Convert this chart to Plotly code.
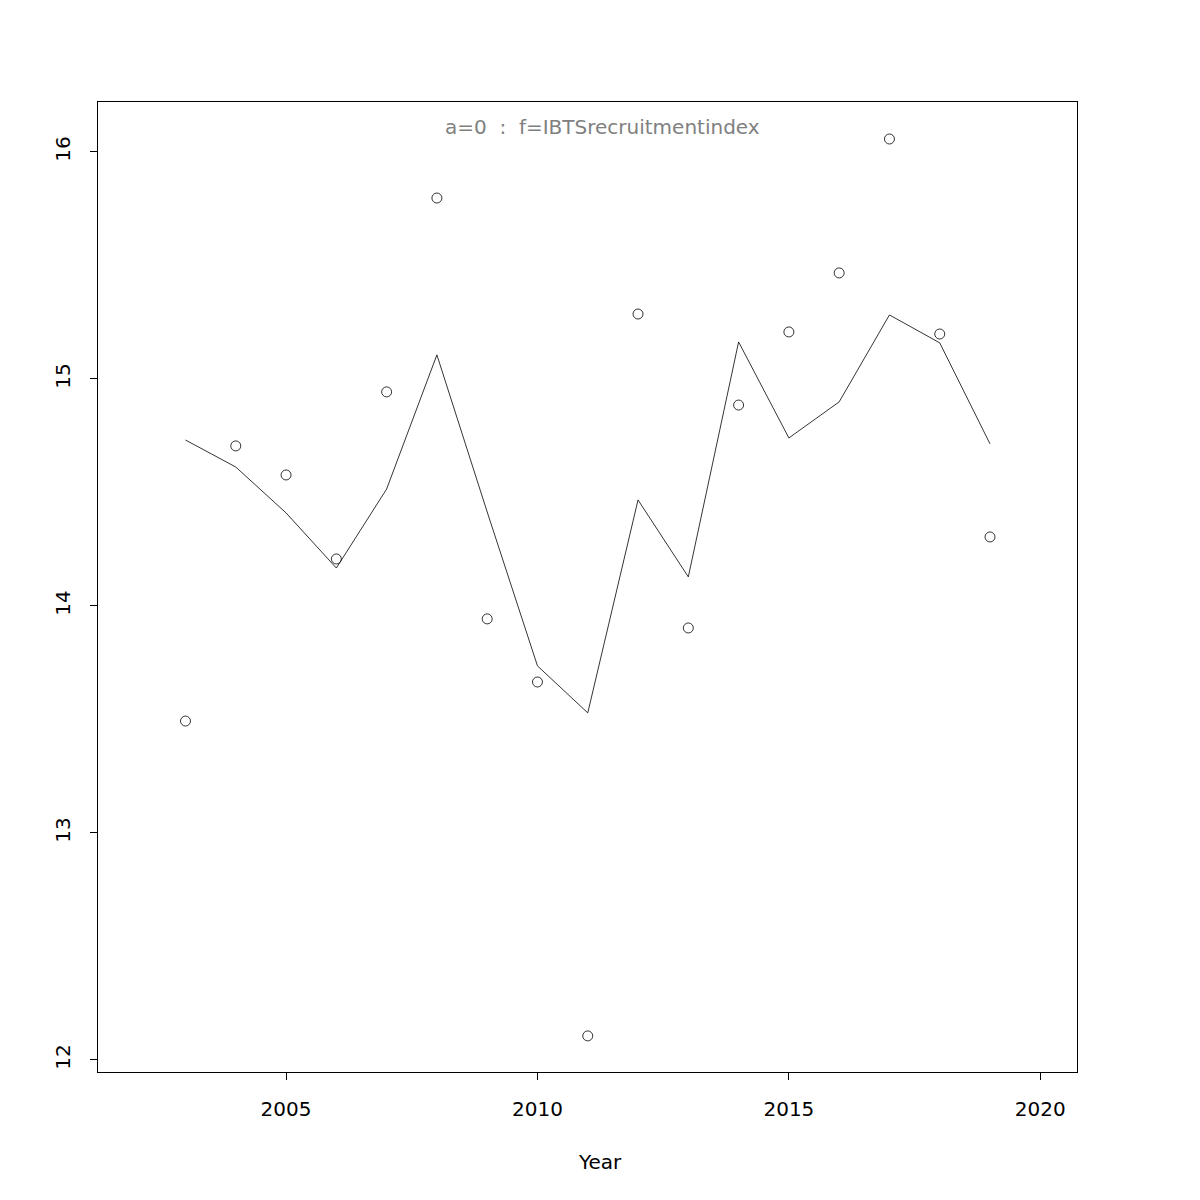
import plotly.graph_objects as go

years = list(range(2003, 2020))
observed = [13.493, 14.705, 14.577, 14.207, 14.943, 15.797, 13.943, 13.665, 12.106,
            15.286, 13.903, 14.885, 15.207, 15.467, 16.057, 15.198, 14.304]
fitted = [14.731, 14.612, 14.410, 14.167, 14.515, 15.106, 14.414, 13.736, 13.529,
          14.467, 14.128, 15.163, 14.740, 14.899, 15.282, 15.159, 14.714]
x_ticks = [2005, 2010, 2015, 2020]
y_ticks = [12, 13, 14, 15, 16]
title_text = "a=0  :  f=IBTSrecruitmentindex"

FONT = "DejaVu Sans"
FS = 20
fig = go.Figure()
fig.add_trace(go.Scatter(x=years, y=fitted, mode="lines",
                         line=dict(color="black", width=0.8), showlegend=False))
fig.add_trace(go.Scatter(x=years, y=observed, mode="markers",
                         marker=dict(symbol="circle-open", size=10, color="black",
                                     line=dict(width=0.8)), showlegend=False))

L, R, T, B = 90, 131, 94, 136
fig.update_layout(
    width=1200, height=1200,
    margin=dict(l=L, r=R, t=T, b=B),
    paper_bgcolor="white", plot_bgcolor="white",
    font=dict(family=FONT, size=FS, color="black"),
    xaxis=dict(range=[2001.26, 2020.73], tickvals=x_ticks, ticks="outside", ticklen=7,
               tickcolor="black", tickwidth=1, showline=True, mirror=True,
               linecolor="black", linewidth=1, showgrid=False, zeroline=False,
               ticklabelstandoff=12,
               tickfont=dict(family=FONT, size=FS, color="black")),
    yaxis=dict(range=[11.947, 16.22], tickvals=y_ticks, ticks="outside", ticklen=7,
               tickcolor="black", tickwidth=1, showline=True, mirror=True,
               linecolor="black", linewidth=1, showgrid=False, zeroline=False,
               tickangle=-90, ticklabelstandoff=12,
               tickfont=dict(family=FONT, size=FS, color="black")),
    annotations=[
        dict(text=title_text, xref="paper", yref="paper",
             x=(602 - 98) / 979, y=(1072 - 127) / 970,
             xanchor="center", yanchor="middle", showarrow=False,
             font=dict(family=FONT, size=FS, color="#808080")),
        dict(text="Year", xref="paper", yref="paper",
             x=(600 - 98) / 979, y=-(1162 - 1072) / 970,
             xanchor="center", yanchor="middle", showarrow=False,
             font=dict(family=FONT, size=FS, color="black")),
    ],
)
fig.write_html("out.html")
